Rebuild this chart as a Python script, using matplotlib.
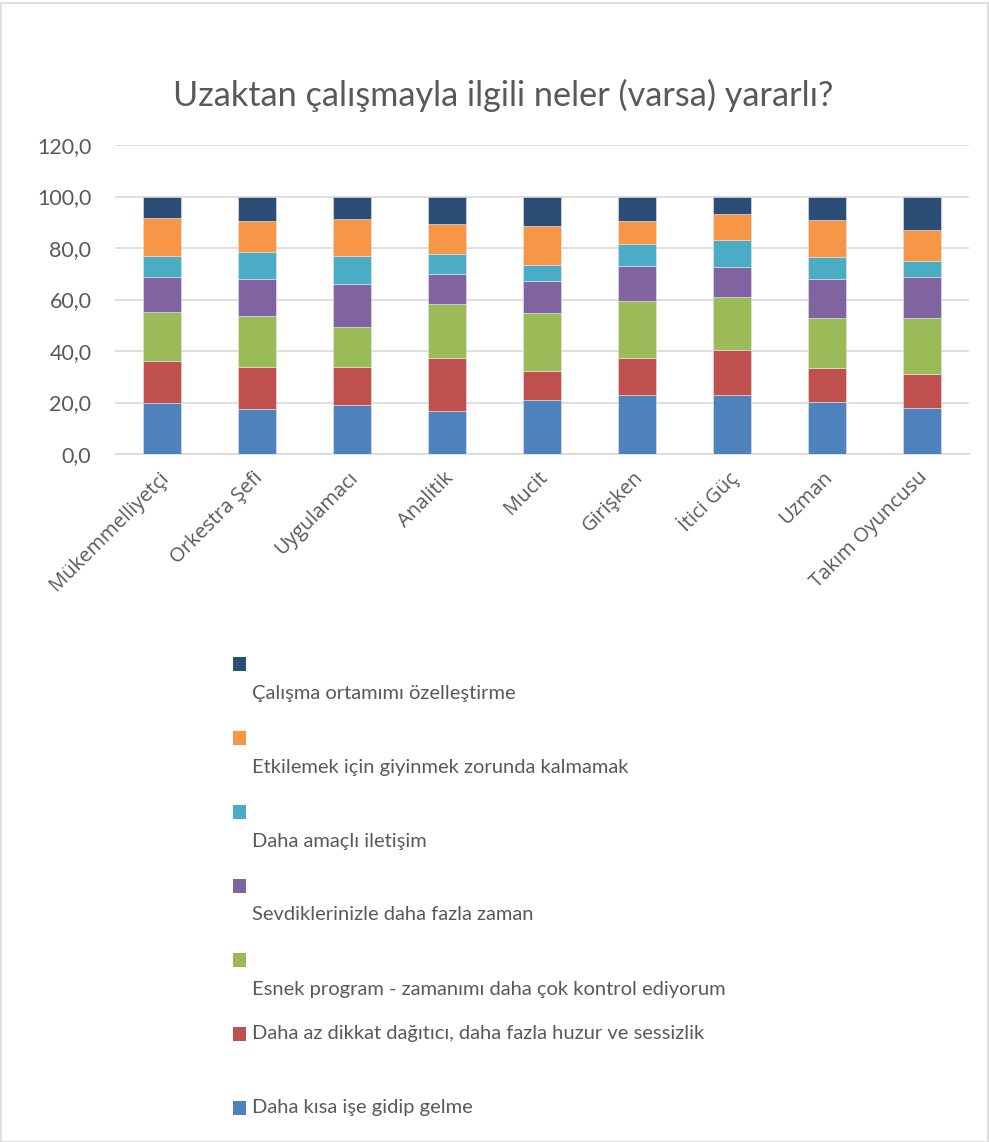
import matplotlib
matplotlib.use("Agg")
import matplotlib.pyplot as plt
from matplotlib.patches import Rectangle
from matplotlib.ticker import FuncFormatter, MultipleLocator
import matplotlib.transforms as mtransforms
import numpy as np

plt.rcParams['font.family'] = ['Lato', 'DejaVu Sans']

title = "Uzaktan çalışmayla ilgili neler (varsa) yararlı?"
categories = ["Mükemmelliyetçi", "Orkestra Şefi", "Uygulamacı", "Analitik", "Mucit",
              "Girişken", "İtici Güç", "Uzman", "Takım Oyuncusu"]

series_names = [
    "Daha kısa işe gidip gelme",
    "Daha az dikkat dağıtıcı, daha fazla huzur ve sessizlik",
    "Esnek program - zamanımı daha çok kontrol ediyorum",
    "Sevdiklerinizle daha fazla zaman",
    "Daha amaçlı iletişim",
    "Etkilemek için giyinmek zorunda kalmamak",
    "Çalışma ortamımı özelleştirme",
]
kisa_yol = [20.0, 17.6, 19.2, 16.7, 20.8, 23.0, 23.1, 20.1, 17.9]
az_dikkat = [16.2, 16.3, 14.5, 20.7, 11.6, 14.4, 17.4, 13.4, 13.1]
esnek = [19.1, 19.7, 15.6, 20.8, 22.3, 21.9, 20.5, 19.4, 21.7]
sevdikler = [13.6, 14.5, 16.6, 11.7, 12.5, 13.7, 11.8, 15.2, 15.9]
iletisim = [8.0, 10.4, 10.8, 7.8, 6.3, 8.7, 10.5, 8.3, 6.5]
giyinmek = [14.9, 12.0, 14.6, 11.8, 15.0, 8.8, 9.8, 14.4, 11.9]
ortam = [8.2, 9.5, 8.7, 10.5, 11.5, 9.5, 6.9, 9.2, 13.0]

series_values = [kisa_yol, az_dikkat, esnek, sevdikler, iletisim, giyinmek, ortam]
colors = ["#4F81BD", "#C0504D", "#9BBB59", "#8064A2", "#4BACC6", "#F79646", "#2C4D75"]

text_color = "#595959"
grid_color = "#D9D9D9"

fig = plt.figure(figsize=(9.89, 11.42), dpi=100)
ax = fig.add_axes([115/989, 1 - 454/1142, (969-115)/989, (454-145)/1142])

x = np.arange(len(categories))
bottom = np.zeros(len(categories))
for vals, col in zip(series_values, colors):
    v = np.array(vals)
    ax.bar(x, v, width=0.4, bottom=bottom, color=col, edgecolor="#E6E6E6",
           linewidth=0.4, zorder=3)
    bottom += v

ax.set_xlim(-0.5, len(categories) - 0.5)
ax.set_ylim(0, 120)
ax.yaxis.set_major_locator(MultipleLocator(20))
ax.yaxis.set_major_formatter(FuncFormatter(lambda v, p: f"{v:.1f}".replace('.', ',')))
ax.grid(axis='y', color=grid_color, linewidth=1.2, zorder=0)
ax.set_axisbelow(True)
for s in ['top', 'right', 'left']:
    ax.spines[s].set_visible(False)
ax.spines['bottom'].set_color(grid_color)
ax.spines['bottom'].set_linewidth(1.2)
ax.tick_params(axis='both', length=0, colors=text_color)
ax.tick_params(axis='y', pad=17, labelsize=15.5)
ax.tick_params(axis='x', pad=15)
ax.set_xticks(x)
ax.set_xticklabels(categories, rotation=45, ha='right', va='center',
                   rotation_mode='anchor', family=['Open Sans', 'DejaVu Sans'],
                   fontsize=14.5, color=text_color)
offset = mtransforms.ScaledTranslation(3/100, 0, fig.dpi_scale_trans)
for lbl in ax.get_xticklabels():
    lbl.set_transform(lbl.get_transform() + offset)

fig.text(503/989, 1 - 95/1142, title, ha='center', va='center', fontsize=24.7,
         color=text_color)

# legend (custom layout, as in the reference)
marker_y = [1108, 1034, 960, 886, 812, 738, 664]
text_y = [1108, 1034, 989, 915, 841, 767, 693]
for name, col, my, ty in zip(series_names, colors, marker_y, text_y):
    fig.patches.append(Rectangle((233/989, 1 - (my + 7)/1142), 13/989, 14/1142,
                                 transform=fig.transFigure, facecolor=col,
                                 edgecolor='none'))
    fig.text(252/989, 1 - ty/1142, name, ha='left', va='center', fontsize=14.5,
             color=text_color)

# outer border
fig.patches.append(Rectangle((0.5/989, 0.5/1142), 987.5/989, 1139/1142,
                             transform=fig.transFigure, facecolor='none',
                             edgecolor=grid_color, linewidth=1.2))

fig.savefig("out.png", dpi=100)
